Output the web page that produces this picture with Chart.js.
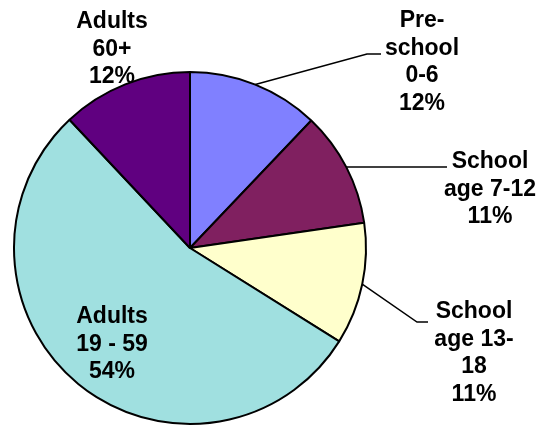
<!DOCTYPE html>
<html>
<head>
<meta charset="utf-8">
<script src="https://cdn.jsdelivr.net/npm/chart.js@4/dist/chart.umd.min.js"></script>
<style>
  body { margin: 0; background: #fff; }
  #wrap { width: 543px; height: 426px; }
</style>
</head>
<body>
<div id="wrap"><canvas id="grafico" width="543" height="426"></canvas></div>
<script>
// data (percent of population)
const categorias = [['Pre-', 'school', '0-6'], ['School', 'age 7-12'], ['School', 'age 13-', '18'], ['Adults', '19 - 59'], ['Adults', '60+']];
const valores = [12.1, 10.6, 11.2, 54.1, 12.0];
const cores = ['#8080FF', '#802060', '#FFFFCC', '#A0E0E0', '#600080'];

// label placement: [text centre x, first line y, leader elbow x, elbow y, leader end x] (null = no leader)
const posLabels = [
  [422, 21, 367, 54, 381],
  [490, 162, null, 168, 447],
  [474, 312, 417, 322, 428],
  [112, 317, null, null, null],
  [112, 22, null, null, null]
];

const DIV_GRAF = document.getElementById('grafico');

const rotulos = {
  id: 'rotulos',
  afterDatasetsDraw(chart) {
    const ctx = chart.ctx;
    const meta = chart.getDatasetMeta(0);
    const total = valores.reduce((a, b) => a + b, 0);
    ctx.save();
    ctx.font = 'bold 23px "Liberation Sans", Arial, sans-serif';
    ctx.fillStyle = '#000';
    ctx.textAlign = 'center';
    ctx.textBaseline = 'middle';
    ctx.strokeStyle = '#000';
    ctx.lineWidth = 1.5;
    meta.data.forEach((arc, i) => {
      const p = posLabels[i];
      if (p[4] !== null) {
        const mid = (arc.startAngle + arc.endAngle) / 2;
        const sx = arc.x + Math.cos(mid) * arc.outerRadius;
        const sy = arc.y + Math.sin(mid) * arc.outerRadius;
        ctx.beginPath();
        ctx.moveTo(sx, sy);
        if (p[2] !== null) {
          ctx.lineTo(p[2], p[3]);
          ctx.lineTo(p[4], p[3]);
        } else {
          ctx.lineTo(p[4], sy);
        }
        ctx.stroke();
      }
      const linhas = categorias[i].concat([Math.round(valores[i] / total * 100) + '%']);
      linhas.forEach((t, k) => ctx.fillText(t, p[0], p[1] + k * 27.5));
    });
    ctx.restore();
  }
};

new Chart(DIV_GRAF, {
  type: 'pie',
  data: {
    labels: categorias.map(c => c.join(' ')),
    datasets: [{
      data: valores,
      backgroundColor: cores,
      borderColor: '#000',
      borderWidth: 2
    }]
  },
  options: {
    responsive: false,
    animation: false,
    layout: { padding: { left: 13, right: 176, top: 71, bottom: 1 } },
    plugins: {
      legend: { display: false },
      tooltip: { enabled: false }
    }
  },
  plugins: [rotulos]
});
</script>
</body>
</html>
